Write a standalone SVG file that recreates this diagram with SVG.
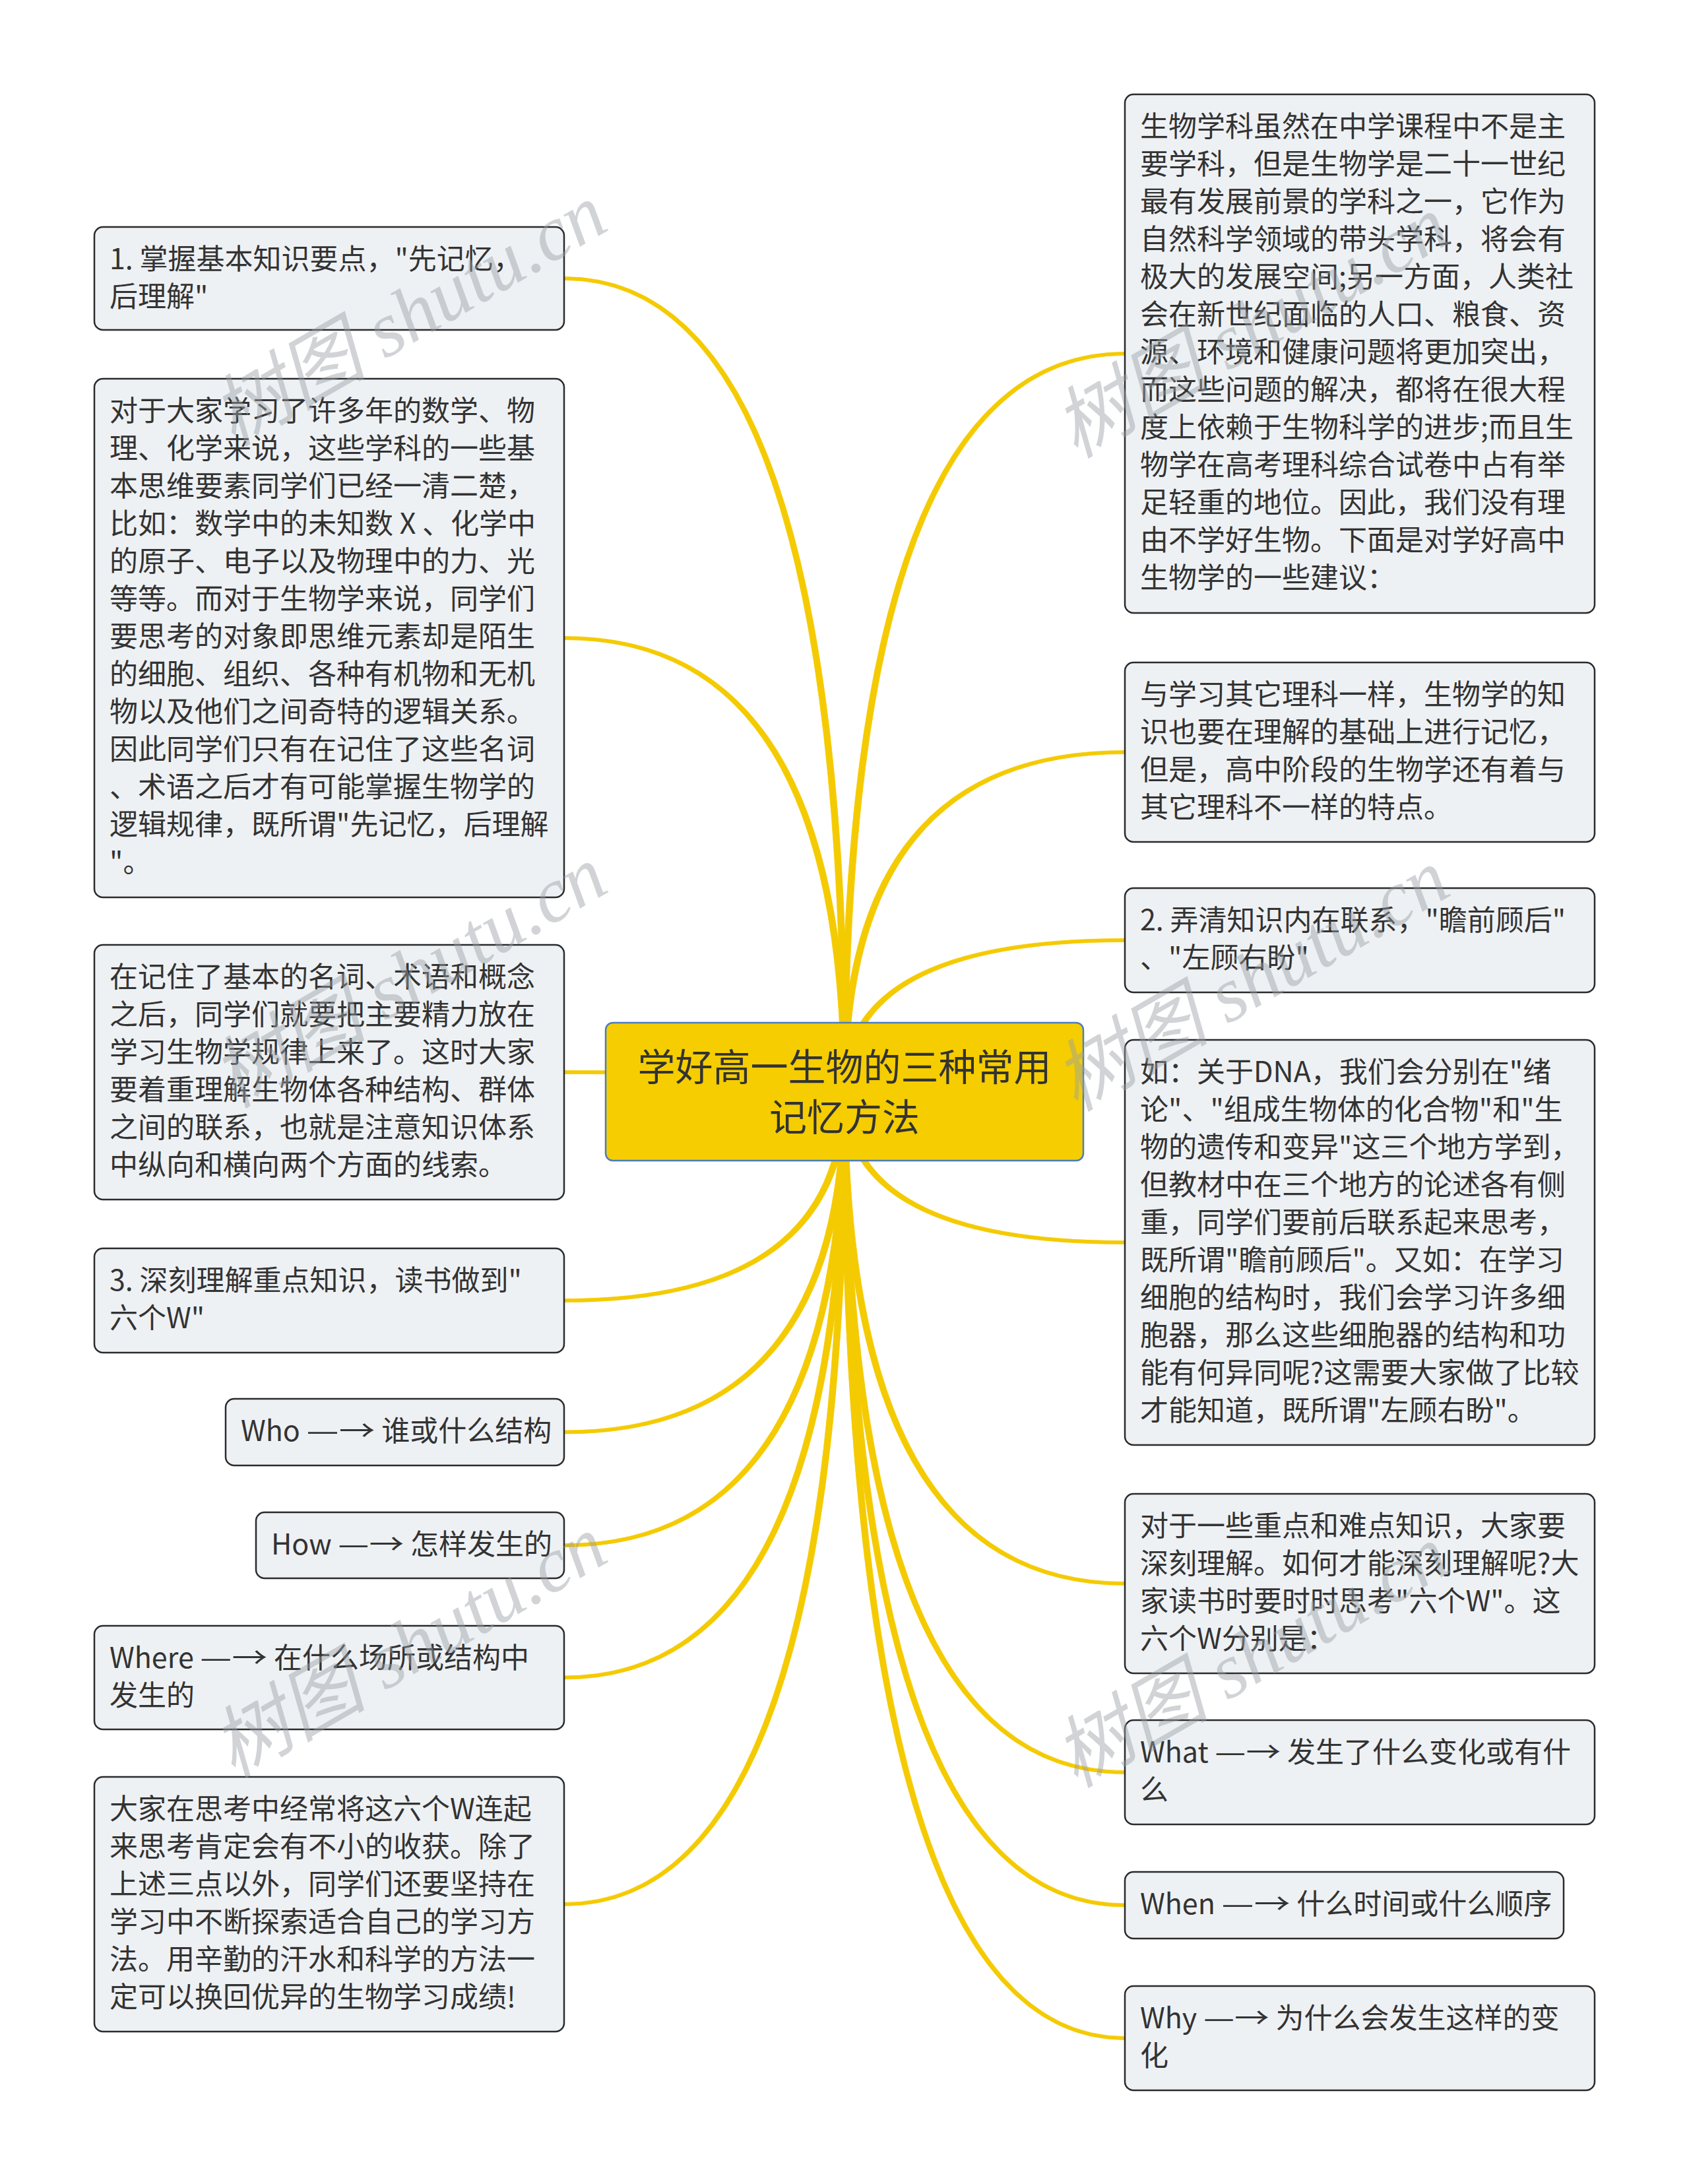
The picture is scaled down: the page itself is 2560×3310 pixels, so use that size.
<svg xmlns="http://www.w3.org/2000/svg" width="2560" height="3310" viewBox="0 0 2560 3310">
<style>
.bg{fill:#ffffff}
.node rect{fill:#EEF1F4;stroke:#2b2b2b;stroke-width:2.5}
.node text{font-family:"Noto Sans CJK SC","Noto Sans",sans-serif;font-size:43px;fill:#333333}
#root rect{fill:#F5CD00;stroke:#4A7EBB;stroke-width:2.5}
#root text{font-family:"Noto Sans CJK SC","Noto Sans",sans-serif;font-size:57px;fill:#333333;text-anchor:middle}
#connectors path{fill:#F4CA00;stroke:#F4CA00;stroke-width:0.8;stroke-linejoin:round}
.wm{font-family:"Liberation Serif","Noto Sans CJK SC",serif;font-style:italic;font-size:118px;fill:#9aa0a6;opacity:0.45;text-anchor:middle}
</style>
<rect class="bg" x="0" y="0" width="2560" height="3310"/>

<g id="connectors">
<path d="M1285,1654 Q1285,419.5 855,419.5 L855,424.5 Q1275,424.5 1275,1654 Z"/>
<path d="M1285,1654 Q1285,964.5 855,964.5 L855,969.5 Q1275,969.5 1275,1654 Z"/>
<path d="M1285,1654 Q1285,1622.5 855,1622.5 L855,1627.5 Q1275,1627.5 1275,1654 Z"/>
<path d="M1285,1654 Q1285,1973.5 855,1973.5 L855,1968.5 Q1275,1968.5 1275,1654 Z"/>
<path d="M1285,1654 Q1285,2173 855,2173 L855,2168 Q1275,2168 1275,1654 Z"/>
<path d="M1285,1654 Q1285,2344.5 855,2344.5 L855,2339.5 Q1275,2339.5 1275,1654 Z"/>
<path d="M1285,1654 Q1285,2545 855,2545 L855,2540 Q1275,2540 1275,1654 Z"/>
<path d="M1285,1654 Q1285,2888.5 855,2888.5 L855,2883.5 Q1275,2883.5 1275,1654 Z"/>
<path d="M1275,1654 Q1275,533.5 1705,533.5 L1705,538.5 Q1285,538.5 1285,1654 Z"/>
<path d="M1275,1654 Q1275,1137.5 1705,1137.5 L1705,1142.5 Q1285,1142.5 1285,1654 Z"/>
<path d="M1275,1654 Q1275,1422.5 1705,1422.5 L1705,1427.5 Q1285,1427.5 1285,1654 Z"/>
<path d="M1275,1654 Q1275,1885.5 1705,1885.5 L1705,1880.5 Q1285,1880.5 1285,1654 Z"/>
<path d="M1275,1654 Q1275,2402.5 1705,2402.5 L1705,2397.5 Q1285,2397.5 1285,1654 Z"/>
<path d="M1275,1654 Q1275,2688.5 1705,2688.5 L1705,2683.5 Q1285,2683.5 1285,1654 Z"/>
<path d="M1275,1654 Q1275,2890 1705,2890 L1705,2885 Q1285,2885 1285,1654 Z"/>
<path d="M1275,1654 Q1275,3091.5 1705,3091.5 L1705,3086.5 Q1285,3086.5 1285,1654 Z"/>
</g>

<g id="root">
<rect x="918" y="1550" width="724" height="209" rx="11"/>
<text x="1280" y="1638">学好高一生物的三种常用</text>
<text x="1280" y="1714">记忆方法</text>
</g>

<g id="n-l1" class="node">
<rect x="143" y="344" width="712" height="156" rx="13"/>
<text x="166" y="408">1. 掌握基本知识要点，"先记忆，</text>
<text x="166" y="465">后理解"</text>
</g>

<g id="n-l2" class="node">
<rect x="143" y="574" width="712" height="786" rx="13"/>
<text x="166" y="638">对于大家学习了许多年的数学、物</text>
<text x="166" y="695">理、化学来说，这些学科的一些基</text>
<text x="166" y="752">本思维要素同学们已经一清二楚，</text>
<text x="166" y="809">比如：数学中的未知数 X 、化学中</text>
<text x="166" y="866">的原子、电子以及物理中的力、光</text>
<text x="166" y="923">等等。而对于生物学来说，同学们</text>
<text x="166" y="980">要思考的对象即思维元素却是陌生</text>
<text x="166" y="1037">的细胞、组织、各种有机物和无机</text>
<text x="166" y="1094">物以及他们之间奇特的逻辑关系。</text>
<text x="166" y="1151">因此同学们只有在记住了这些名词</text>
<text x="166" y="1208">、术语之后才有可能掌握生物学的</text>
<text x="166" y="1265">逻辑规律，既所谓"先记忆，后理解</text>
<text x="166" y="1322">"。</text>
</g>

<g id="n-l3" class="node">
<rect x="143" y="1432" width="712" height="386" rx="13"/>
<text x="166" y="1496">在记住了基本的名词、术语和概念</text>
<text x="166" y="1553">之后，同学们就要把主要精力放在</text>
<text x="166" y="1610">学习生物学规律上来了。这时大家</text>
<text x="166" y="1667">要着重理解生物体各种结构、群体</text>
<text x="166" y="1724">之间的联系，也就是注意知识体系</text>
<text x="166" y="1781">中纵向和横向两个方面的线索。</text>
</g>

<g id="n-l4" class="node">
<rect x="143" y="1892" width="712" height="158" rx="13"/>
<text x="166" y="1956">3. 深刻理解重点知识，读书做到"</text>
<text x="166" y="2013">六个W"</text>
</g>

<g id="n-who" class="node">
<rect x="342" y="2120" width="513" height="101" rx="13"/>
<text x="365" y="2184">Who <tspan textLength="104" lengthAdjust="spacingAndGlyphs">—→</tspan> 谁或什么结构</text>
</g>

<g id="n-how" class="node">
<rect x="388" y="2292" width="467" height="100" rx="13"/>
<text x="411" y="2356">How <tspan textLength="100" lengthAdjust="spacingAndGlyphs">—→</tspan> 怎样发生的</text>
</g>

<g id="n-where" class="node">
<rect x="143" y="2464" width="712" height="157" rx="13"/>
<text x="166" y="2528">Where <tspan textLength="102" lengthAdjust="spacingAndGlyphs">—→</tspan> 在什么场所或结构中</text>
<text x="166" y="2585">发生的</text>
</g>

<g id="n-l8" class="node">
<rect x="143" y="2693" width="712" height="386" rx="13"/>
<text x="166" y="2757">大家在思考中经常将这六个W连起</text>
<text x="166" y="2814">来思考肯定会有不小的收获。除了</text>
<text x="166" y="2871">上述三点以外，同学们还要坚持在</text>
<text x="166" y="2928">学习中不断探索适合自己的学习方</text>
<text x="166" y="2985">法。用辛勤的汗水和科学的方法一</text>
<text x="166" y="3042">定可以换回优异的生物学习成绩!</text>
</g>

<g id="n-r1" class="node">
<rect x="1705" y="143" width="712" height="786" rx="13"/>
<text x="1728" y="207">生物学科虽然在中学课程中不是主</text>
<text x="1728" y="264">要学科，但是生物学是二十一世纪</text>
<text x="1728" y="321">最有发展前景的学科之一，它作为</text>
<text x="1728" y="378">自然科学领域的带头学科，将会有</text>
<text x="1728" y="435">极大的发展空间;另一方面，人类社</text>
<text x="1728" y="492">会在新世纪面临的人口、粮食、资</text>
<text x="1728" y="549">源、环境和健康问题将更加突出，</text>
<text x="1728" y="606">而这些问题的解决，都将在很大程</text>
<text x="1728" y="663">度上依赖于生物科学的进步;而且生</text>
<text x="1728" y="720">物学在高考理科综合试卷中占有举</text>
<text x="1728" y="777">足轻重的地位。因此，我们没有理</text>
<text x="1728" y="834">由不学好生物。下面是对学好高中</text>
<text x="1728" y="891">生物学的一些建议：</text>
</g>

<g id="n-r2" class="node">
<rect x="1705" y="1004" width="712" height="272" rx="13"/>
<text x="1728" y="1068">与学习其它理科一样，生物学的知</text>
<text x="1728" y="1125">识也要在理解的基础上进行记忆，</text>
<text x="1728" y="1182">但是，高中阶段的生物学还有着与</text>
<text x="1728" y="1239">其它理科不一样的特点。</text>
</g>

<g id="n-r3" class="node">
<rect x="1705" y="1346" width="712" height="158" rx="13"/>
<text x="1728" y="1410">2. 弄清知识内在联系，"瞻前顾后"</text>
<text x="1728" y="1467">、"左顾右盼"</text>
</g>

<g id="n-r4" class="node">
<rect x="1705" y="1576" width="712" height="614" rx="13"/>
<text x="1728" y="1640">如：关于DNA，我们会分别在"绪</text>
<text x="1728" y="1697">论"、"组成生物体的化合物"和"生</text>
<text x="1728" y="1754">物的遗传和变异"这三个地方学到，</text>
<text x="1728" y="1811">但教材中在三个地方的论述各有侧</text>
<text x="1728" y="1868">重，同学们要前后联系起来思考，</text>
<text x="1728" y="1925">既所谓"瞻前顾后"。又如：在学习</text>
<text x="1728" y="1982">细胞的结构时，我们会学习许多细</text>
<text x="1728" y="2039">胞器，那么这些细胞器的结构和功</text>
<text x="1728" y="2096">能有何异同呢?这需要大家做了比较</text>
<text x="1728" y="2153">才能知道，既所谓"左顾右盼"。</text>
</g>

<g id="n-r5" class="node">
<rect x="1705" y="2264" width="712" height="272" rx="13"/>
<text x="1728" y="2328">对于一些重点和难点知识，大家要</text>
<text x="1728" y="2385">深刻理解。如何才能深刻理解呢?大</text>
<text x="1728" y="2442">家读书时要时时思考"六个W"。这</text>
<text x="1728" y="2499">六个W分别是：</text>
</g>

<g id="n-what" class="node">
<rect x="1705" y="2607" width="712" height="158" rx="13"/>
<text x="1728" y="2671">What <tspan textLength="100" lengthAdjust="spacingAndGlyphs">—→</tspan> 发生了什么变化或有什</text>
<text x="1728" y="2728">么</text>
</g>

<g id="n-when" class="node">
<rect x="1705" y="2837" width="665" height="101" rx="13"/>
<text x="1728" y="2901">When <tspan textLength="104" lengthAdjust="spacingAndGlyphs">—→</tspan> 什么时间或什么顺序</text>
</g>

<g id="n-why" class="node">
<rect x="1705" y="3010" width="712" height="158" rx="13"/>
<text x="1728" y="3074">Why <tspan textLength="100" lengthAdjust="spacingAndGlyphs">—→</tspan> 为什么会发生这样的变</text>
<text x="1728" y="3131">化</text>
</g>

<g id="watermarks">
<text class="wm" x="640" y="512" transform="rotate(-30 640 512)">树图 shutu.cn</text>
<text class="wm" x="1917" y="530" transform="rotate(-30 1917 530)">树图 shutu.cn</text>
<text class="wm" x="640" y="1515" transform="rotate(-30 640 1515)">树图 shutu.cn</text>
<text class="wm" x="1917" y="1520" transform="rotate(-30 1917 1520)">树图 shutu.cn</text>
<text class="wm" x="640" y="2530" transform="rotate(-30 640 2530)">树图 shutu.cn</text>
<text class="wm" x="1917" y="2545" transform="rotate(-30 1917 2545)">树图 shutu.cn</text>
</g>
</svg>
